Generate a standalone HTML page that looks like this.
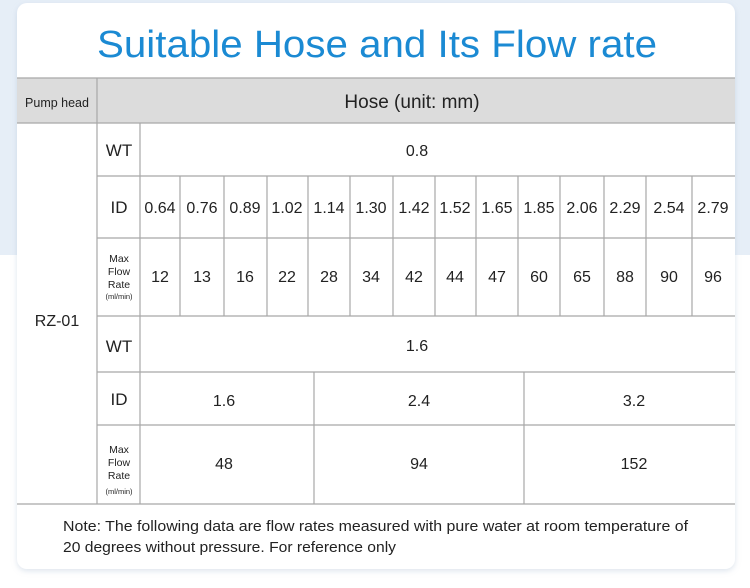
<!DOCTYPE html>
<html><head><meta charset="utf-8"><style>
html,body{margin:0;padding:0;width:750px;height:588px;overflow:hidden;background:#fff}
svg{display:block}
text{font-family:"Liberation Sans",sans-serif;fill:#222}
</style></head><body>
<svg width="750" height="588" viewBox="0 0 750 588" xmlns="http://www.w3.org/2000/svg">
<defs><filter id="sh" x="-5%" y="-5%" width="110%" height="110%"><feDropShadow dx="0" dy="2" stdDeviation="3" flood-color="#9fb4cc" flood-opacity="0.35"/></filter></defs>
<rect x="0" y="0" width="750" height="255" fill="#e6eef7"/>
<rect x="17" y="3" width="718" height="566" rx="10" fill="#fff" filter="url(#sh)"/>
<text x="377" y="57" text-anchor="middle" font-size="38" style="fill:#1b8ad3" textLength="560" lengthAdjust="spacingAndGlyphs">Suitable Hose and Its Flow rate</text>
<rect x="17" y="78" width="718" height="45" fill="#dcdcdc"/>
<g stroke="#a8a8a8" stroke-width="1.2" fill="none">
<line x1="17" y1="78" x2="735" y2="78"/>
<line x1="17" y1="123" x2="735" y2="123"/>
<line x1="97" y1="78" x2="97" y2="504"/>
<line x1="140" y1="123" x2="140" y2="504"/>
<line x1="97" y1="176" x2="735" y2="176"/>
<line x1="97" y1="238" x2="735" y2="238"/>
<line x1="97" y1="316" x2="735" y2="316"/>
<line x1="97" y1="372" x2="735" y2="372"/>
<line x1="97" y1="425" x2="735" y2="425"/>
<line x1="17" y1="504" x2="735" y2="504"/>
<path d="M180 176V316M224 176V316M267 176V316M308 176V316M350 176V316M393 176V316M435 176V316M476 176V316M518 176V316M560 176V316M604 176V316M646 176V316M692 176V316"/>
<path d="M314 372V504M524 372V504"/>
</g>
<text x="57" y="107" text-anchor="middle" font-size="12.5">Pump head</text>
<text x="412" y="108" text-anchor="middle" font-size="19">Hose (unit: mm)</text>
<text x="57" y="326" text-anchor="middle" font-size="16">RZ-01</text>
<g font-size="17" text-anchor="middle">
<text x="119" y="156">WT</text>
<text x="119" y="213">ID</text>
<text x="119" y="352">WT</text>
<text x="119" y="405">ID</text>
</g>
<g font-size="10.5" text-anchor="middle">
<text x="119" y="262">Max</text><text x="119" y="275">Flow</text><text x="119" y="288">Rate</text>
<text x="119" y="299" font-size="7.5">(ml/min)</text>
<text x="119" y="453">Max</text><text x="119" y="466">Flow</text><text x="119" y="479">Rate</text>
<text x="119" y="494" font-size="7.5">(ml/min)</text>
</g>
<g font-size="16" text-anchor="middle">
<text x="417" y="156">0.8</text>
<text x="417" y="351">1.6</text>
<text x="160" y="213">0.64</text><text x="202" y="213">0.76</text><text x="245" y="213">0.89</text><text x="287" y="213">1.02</text><text x="329" y="213">1.14</text><text x="371" y="213">1.30</text><text x="414" y="213">1.42</text><text x="455" y="213">1.52</text><text x="497" y="213">1.65</text><text x="539" y="213">1.85</text><text x="582" y="213">2.06</text><text x="625" y="213">2.29</text><text x="669" y="213">2.54</text><text x="713" y="213">2.79</text>
<text x="160" y="282">12</text><text x="202" y="282">13</text><text x="245" y="282">16</text><text x="287" y="282">22</text><text x="329" y="282">28</text><text x="371" y="282">34</text><text x="414" y="282">42</text><text x="455" y="282">44</text><text x="497" y="282">47</text><text x="539" y="282">60</text><text x="582" y="282">65</text><text x="625" y="282">88</text><text x="669" y="282">90</text><text x="713" y="282">96</text>
<text x="224" y="406">1.6</text><text x="419" y="406">2.4</text><text x="634" y="406">3.2</text>
<text x="224" y="469">48</text><text x="419" y="469">94</text><text x="634" y="469">152</text>
</g>
<text x="63" y="531" font-size="15" textLength="625" lengthAdjust="spacingAndGlyphs">Note: The following data are flow rates measured with pure water at room temperature of</text>
<text x="63" y="552" font-size="15" textLength="333" lengthAdjust="spacingAndGlyphs">20 degrees without pressure. For reference only</text>
</svg>
</body></html>
